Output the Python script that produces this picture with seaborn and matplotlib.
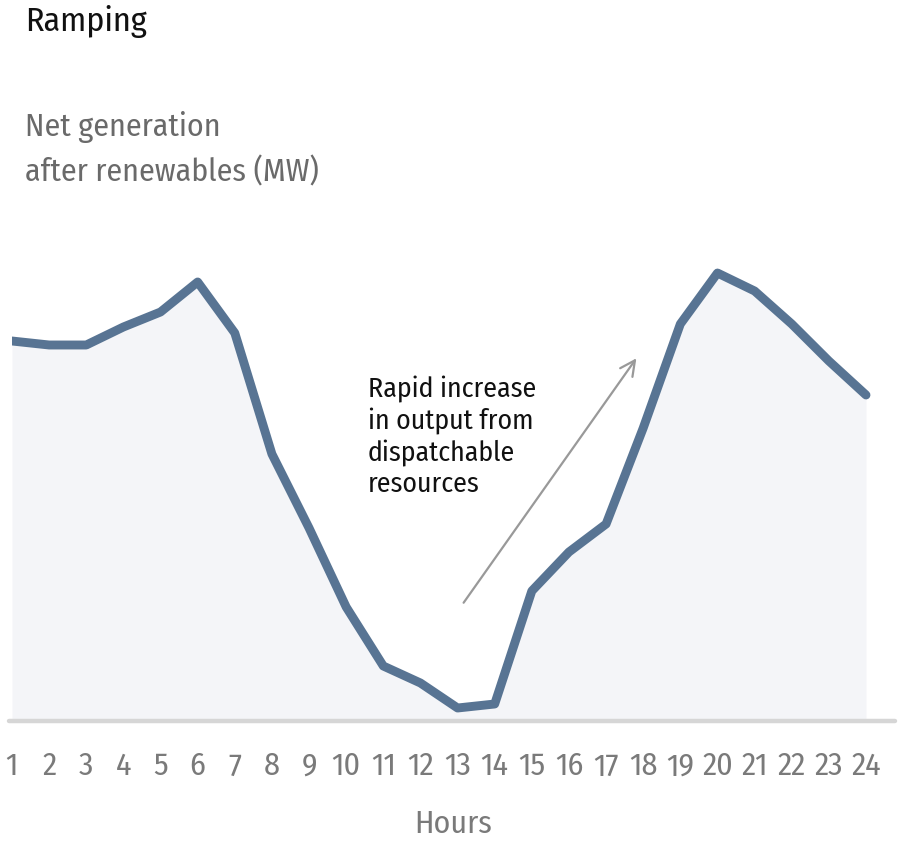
from matplotlib import pyplot as plt
import seaborn as sns
import pandas as pd


# Dados
horas = list(range(1, 25))
geracao = [380, 376, 376, 394, 409, 439, 388, 267, 193, 114, 55, 38,
           13, 17, 130, 169, 197, 293, 397, 448, 430, 397, 360, 326]
rotulos_x = [str(h) for h in horas]

df = pd.DataFrame({'hora': horas, 'geracao': geracao})

sns.set_theme(style='white')
plt.rcParams['font.family'] = ['Fira Sans Condensed', 'Open Sans Condensed',
                               'Liberation Sans', 'DejaVu Sans']

cor_linha = '#587493'
cor_fundo = '#f4f5f8'
cor_cinza = '#7a7a7a'

fig = plt.figure(figsize=(9.02, 8.52), dpi=100)
ax = fig.add_axes([12 / 902, 131 / 852, 883 / 902, 500 / 852])

# area + linha
ax.fill_between(df['hora'], df['geracao'], 0, color=cor_fundo, lw=0, zorder=1)
sns.lineplot(data=df, x='hora', y='geracao', ax=ax, color=cor_linha,
             lw=6.4, solid_joinstyle='round', solid_capstyle='round', zorder=3)
ax.axhline(0, xmin=-0.003, xmax=1, color='#d6d6d6', lw=3.2, zorder=2, clip_on=False)

passo = 854 / 23
ax.set_xlim(1, 1 + 883 / passo)
ax.set_ylim(0, 500)
for s in ax.spines.values():
    s.set_visible(False)
ax.set_yticks([])
ax.set_xticks(horas)
ax.set_xticklabels(rotulos_x)
ax.tick_params(axis='x', length=0, pad=22, labelsize=23, labelcolor=cor_cinza)
ax.set_xlabel('Hours', fontsize=23, color=cor_cinza, labelpad=20)
ax.set_ylabel('')

# seta de anotacao
ax.annotate('', xy=(1 + (638 - 12) / passo, 720 - 355),
            xytext=(1 + (462 - 12) / passo, 720 - 604),
            arrowprops=dict(arrowstyle='->,head_length=0.9,head_width=0.45',
                            color='#999999', lw=1.6))
ax.text(1 + (368 - 12) / passo, 720 - 375,
        'Rapid increase\nin output from\ndispatchable\nresources',
        fontsize=20, color='#111111', va='top', ha='left', linespacing=1.22)

fig.text(25 / 902, 1 - 22 / 852, 'Ramping', fontsize=24.5, color='#111111', va='center')
fig.text(25 / 902, 1 - 149 / 852, 'Net generation\nafter renewables (MW)',
         fontsize=23, color='#6a6a6a', va='center', linespacing=1.55)

fig.savefig('out.png', dpi=100)
